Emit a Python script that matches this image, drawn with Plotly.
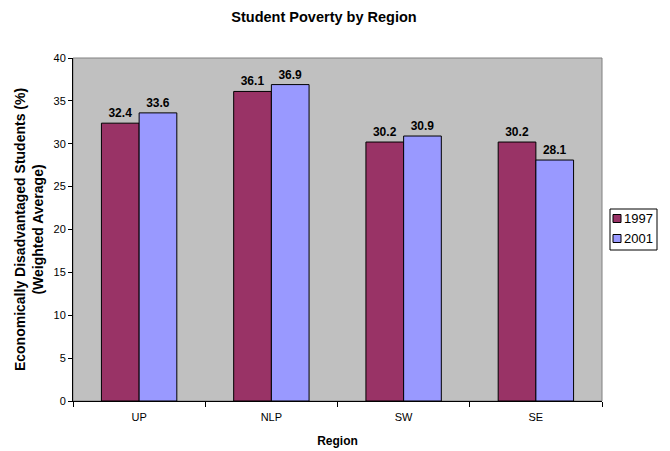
import plotly.graph_objects as go

regions = ["UP", "NLP", "SW", "SE"]
values_1997 = [32.4, 36.1, 30.2, 30.2]
values_2001 = [33.6, 36.9, 30.9, 28.1]
series_names = ["1997", "2001"]
series_colors = ["#993366", "#9999FF"]

font_family = "Liberation Sans, Arial, sans-serif"
W, H = 670, 451
L, R, T, B = 73, 68, 58, 50
PW, PH = W - L - R, H - T - B

def px(x):
    # page pixel -> plot paper fraction
    return (x - L) / PW

def py(y):
    return (H - B - y) / PH

fig = go.Figure()
for name, vals, color in zip(series_names, [values_1997, values_2001], series_colors):
    fig.add_trace(go.Bar(
        name=name, x=regions, y=vals,
        marker=dict(color=color, line=dict(color="black", width=1)),
        text=[f"<b>{v:.1f}</b>" for v in vals], textposition="outside",
        textfont=dict(family=font_family, size=12, color="black"),
        cliponaxis=False,
    ))

# plot area border
fig.add_shape(type="rect", xref="paper", yref="paper", x0=0, y0=0, x1=1, y1=1,
              line=dict(color="#808080", width=1), layer="below")

# boxed legend on the right
fig.add_shape(type="rect", xref="paper", yref="paper",
              x0=px(610), x1=px(657), y0=py(250), y1=py(209),
              line=dict(color="black", width=1), fillcolor="white")
for i, (name, color) in enumerate(zip(series_names, series_colors)):
    cy = 218.5 + 20 * i
    fig.add_shape(type="rect", xref="paper", yref="paper",
                  x0=px(613), x1=px(621), y0=py(cy + 4), y1=py(cy - 4),
                  line=dict(color="black", width=1), fillcolor=color)
    fig.add_annotation(xref="paper", yref="paper", x=px(622), y=py(cy),
                       text=name, showarrow=False, xanchor="left", yanchor="middle",
                       font=dict(family=font_family, size=13, color="black"))

fig.update_layout(
    width=W, height=H,
    margin=dict(l=L, r=R, t=T, b=B, autoexpand=False),
    paper_bgcolor="white",
    plot_bgcolor="#C0C0C0",
    barmode="group",
    bargap=0.43,
    bargroupgap=0,
    showlegend=False,
    font=dict(family=font_family, size=11, color="black"),
    title=dict(
        text="<b>Student Poverty by Region</b>",
        x=0.4836, xanchor="center", y=0.962, yanchor="middle",
        font=dict(size=14.5, family=font_family, color="black"),
    ),
    xaxis=dict(
        title=dict(text="<b>Region</b>", font=dict(size=12), standoff=14),
        tickson="boundaries", ticks="outside", ticklen=5, tickcolor="black",
        ticklabelstandoff=6,
        showline=True, linecolor="black", linewidth=1,
        tickfont=dict(size=11),
        showgrid=False,
    ),
    yaxis=dict(
        title=dict(text="<b>Economically Disadvantaged Students (%)<br>(Weighted Average)</b>",
                   font=dict(size=14), standoff=6),
        range=[0, 40], dtick=5, ticks="outside", ticklen=4, tickcolor="black",
        showline=True, linecolor="black", linewidth=1,
        showgrid=False, zeroline=False,
        tickfont=dict(size=11),
    ),
)

fig.write_html("out.html")
